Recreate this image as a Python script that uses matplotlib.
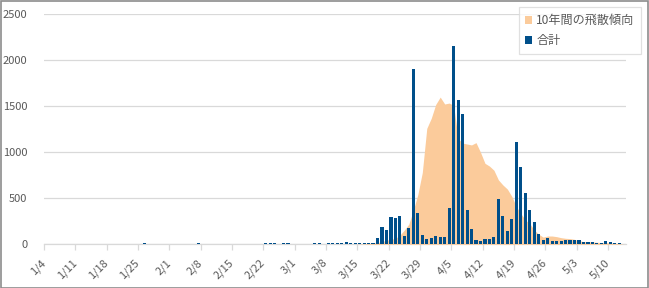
import numpy as np
import matplotlib
matplotlib.use('Agg')
import matplotlib.pyplot as plt
from matplotlib.patches import Rectangle

plt.rcParams['font.family'] = ['Noto Sans CJK JP', 'DejaVu Sans']

# --- Data: one value per day, 1/4 .. 5/13 ---
total_jan = [0] * 22 + [10] + [0] * 5                       # 1/4 - 1/31
total_feb = [0] * 6 + [11] + [0] * 14 + [10, 10, 10, 0, 10, 10, 0]   # 2/1 - 2/28
total_mar = [0, 0, 0, 0, 10, 10, 0, 10, 10, 10, 10, 22, 10, 10, 10, 10, 10, 10,
             70, 188, 156, 297, 286, 308, 94, 177, 1906, 340, 101, 58, 69]
total_apr = [90, 80, 80, 395, 2156, 1572, 1417, 373, 167, 51, 40, 58, 58, 80,
             493, 308, 149, 275, 1112, 840, 562, 373, 246, 112, 51, 69, 40, 40, 40, 51]
total_may = [51, 51, 51, 29, 29, 29, 18, 18, 36, 25, 18, 18, 0]

trend_jan = [0] * 28
trend_feb = [0] * 28
trend_mar = [0] * 14 + [3, 5, 8, 12, 18, 29, 45, 55, 65, 100, 155, 220, 370, 540,
                        780, 1260, 1370]
trend_apr = [1520, 1600, 1525, 1535, 1510, 1150, 1100, 1090, 1080, 1105, 1000, 880,
             850, 805, 700, 645, 600, 520, 410, 335, 265, 225, 155, 110, 78, 90, 90,
             83, 72, 65]
trend_may = [62, 54, 40, 29, 29, 25, 22, 18, 18, 14, 11, 7, 0]

tick_labels = ['1/4', '1/11', '1/18', '1/25', '2/1', '2/8', '2/15', '2/22', '3/1',
               '3/8', '3/15', '3/22', '3/29', '4/5', '4/12', '4/19', '4/26', '5/3', '5/10']

totals = np.array(total_jan + total_feb + total_mar + total_apr + total_may)
trend = np.array(trend_jan + trend_feb + trend_mar + trend_apr + trend_may)
x = np.arange(len(totals)) + 0.5

BAR_COLOR = '#004f8a'
AREA_COLOR = '#fbcb9b'
GRID_COLOR = '#d9d9d9'
TEXT_COLOR = '#595959'

fig = plt.figure(figsize=(6.49, 2.88), dpi=100)
ax = fig.add_axes([44 / 649, 43.7 / 288, 582 / 649, 230 / 288])

ax.fill_between(x, trend, color=AREA_COLOR, lw=0, label='10年間の飛散傾向', zorder=2)
ax.bar(x, totals, width=0.7, color=BAR_COLOR, label='合計', zorder=3)

ax.set_xlim(0, len(totals))
ax.set_ylim(0, 2500)
ax.set_yticks(np.arange(0, 2501, 500))
ax.set_xticks(np.arange(len(tick_labels)) * 7)
ax.set_xticklabels(tick_labels, rotation=45, ha='right', va='center',
                   rotation_mode='anchor')
ax.grid(axis='y', color=GRID_COLOR, lw=0.9, zorder=0)
ax.set_axisbelow(True)

for side in ['top', 'right', 'left']:
    ax.spines[side].set_visible(False)
ax.spines['bottom'].set_color(GRID_COLOR)
ax.spines['bottom'].set_linewidth(0.9)
ax.spines['bottom'].set_zorder(1)
ax.tick_params(axis='x', colors=GRID_COLOR, length=4, width=0.9, pad=8,
               labelcolor=TEXT_COLOR, labelsize=8)
ax.tick_params(axis='y', length=0, pad=12, labelcolor=TEXT_COLOR, labelsize=8)

leg = ax.legend(loc='upper right', bbox_to_anchor=(641 / 649, 280.7 / 288),
                bbox_transform=fig.transFigure, borderaxespad=0, fontsize=8.7,
                frameon=True, fancybox=False, edgecolor=GRID_COLOR,
                handlelength=0.6, handleheight=0.6, handletextpad=0.3,
                borderpad=0.55, labelspacing=0.6, labelcolor=TEXT_COLOR)
leg.get_frame().set_linewidth(0.9)

fig.patches.append(Rectangle((0.5 / 649, 0.5 / 288), 647.5 / 649, 286.5 / 288,
                             transform=fig.transFigure, fill=False,
                             edgecolor='#8c8c8c', lw=1.2))

fig.savefig('out.png', dpi=100)
